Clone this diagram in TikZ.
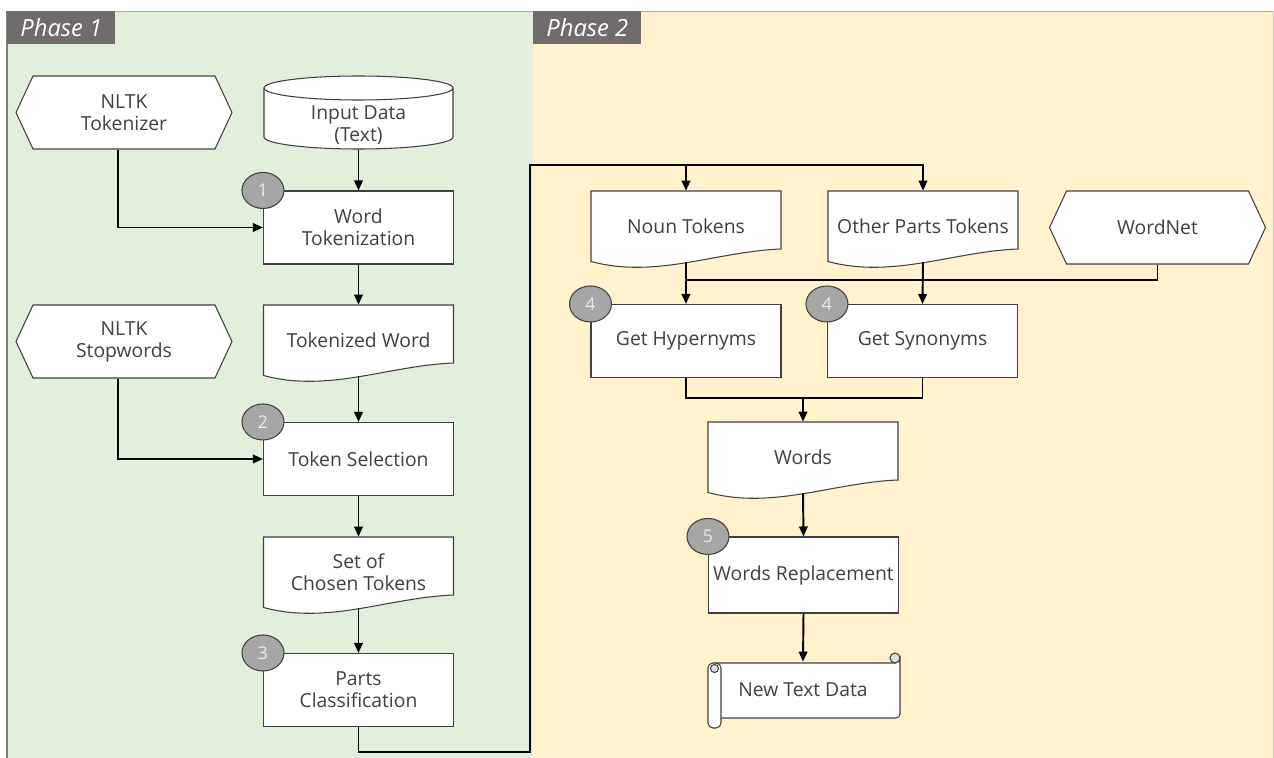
\documentclass[tikz,border=0pt]{standalone}
\usepackage{fontspec}
\setmainfont{Open Sans}
\usetikzlibrary{arrows.meta, shapes.geometric, shapes.symbols}

\definecolor{phasegreen}{RGB}{226,239,218}
\definecolor{phaseyellow}{RGB}{255,242,204}
\definecolor{tabgray}{RGB}{112,108,108}
\definecolor{badgegray}{RGB}{166,166,166}
\definecolor{boxgray}{RGB}{64,64,64}
\definecolor{txtgray}{RGB}{64,64,64}

% wavy-bottom document outline, centred at #1
\newcommand{\docshape}[1]{%
    \begin{scope}[shift={#1}]
        \draw[boxline] (-1.9,0.71) -- (1.9,0.71) -- (1.9,-0.45)
            .. controls (0.6,-0.5) and (-0.6,-1.05) .. (-1.9,-0.70) -- cycle;
    \end{scope}}

\begin{document}
\begin{tikzpicture}[
        > = {Triangle[length=2mm, width=1.7mm]},
        boxline/.style = {draw = boxgray, fill = white, line width = 0.6pt},
        boxtext/.style = {text = txtgray, align = center, inner sep = 1pt, font = \fontsize{11}{12.5}\selectfont},
        proc/.style = {boxline, boxtext, minimum width = 3.8cm, minimum height = 1.46cm},
        hexa/.style = {boxline, boxtext, signal, signal to = west and east, signal pointer angle = 130,
                       minimum width = 4.32cm, minimum height = 1.46cm},
        doctext/.style = {boxtext, minimum width = 3.8cm, minimum height = 1.42cm},
        badge/.style = {ellipse, draw = boxgray, fill = badgegray, text = white!92!black, line width = 0.6pt,
                        minimum width = 0.84cm, minimum height = 0.72cm, inner sep = 0pt,
                        font = \fontsize{10}{11}\selectfont},
        tab/.style = {fill = tabgray, text = white, minimum width = 2.16cm, minimum height = 0.66cm,
                      inner sep = 0pt, font = \fontsize{13.5}{15}\selectfont\itshape},
        flow/.style = {->, line width = 1.1pt},
        link/.style = {line width = 1.1pt}
    ]
        \useasboundingbox (0, 0) rectangle (25.48, -15.16);

        % Panels
        \fill [phasegreen] (0.14, -0.22) rectangle (10.66, -15.16);
        \fill [phaseyellow] (10.66, -0.22) rectangle (25.46, -15.16);
        \draw [gray!70] (0.14, -0.22) -- (25.46, -0.22);
        \draw [gray, line width = 1pt] (0.14, -0.22) -- (0.14, -15.16);
        \draw [gray!40] (25.46, -0.22) -- (25.46, -15.16);
        \node [tab, anchor = north west] (ph1) at (0.14, -0.22) {Phase 1};
        \node [tab, anchor = north west] (ph2) at (10.66, -0.22) {Phase 2};

        % Shapes
        \draw [boxline] (5.28, -1.76) -- (5.28, -2.74) arc (180:360:1.89 and 0.24)
            -- (9.06, -1.76) arc (0:180:1.89 and 0.24) -- cycle;
        \draw [boxline, fill = none] (5.28, -1.76) arc (180:360:1.89 and 0.24);
        \docshape{(7.17, -6.81)}
        \docshape{(7.17, -11.45)}
        \docshape{(13.72, -4.53)}
        \docshape{(18.46, -4.53)}
        \docshape{(16.06, -9.15)}
        % scroll
        \draw [boxline] (14.3, -13.26) -- (17.9, -13.26) arc (270:360:0.1)
            -- (18.0, -14.28) arc (0:-90:0.08) -- (14.3, -14.36) -- cycle;
        \draw [boxline, fill = gray!25] (17.9, -13.16) circle (0.1);
        \draw [boxline, rounded corners = 0.1cm] (14.16, -13.26) rectangle (14.42, -14.56);
        \draw [boxline, fill = gray!25] (14.29, -13.37) circle (0.08);

        % Nodes
        \node [hexa] (tok) at (2.48, -2.25) {NLTK\\Tokenizer};
        \node [boxtext, minimum width = 3.78cm, minimum height = 0.96cm] (inp) at (7.17, -2.51) {Input Data\\(Text)};
        \node [proc] (wt) at (7.17, -4.55) {Word\\Tokenization};
        \node [doctext] (tw) at (7.17, -6.81) {Tokenized Word};
        \node [hexa] (sw) at (2.48, -6.83) {NLTK\\Stopwords};
        \node [proc] (ts) at (7.17, -9.18) {Token Selection};
        \node [doctext] (sct) at (7.17, -11.45) {Set of\\Chosen Tokens};
        \node [proc] (pc) at (7.17, -13.8) {Parts\\Classification};

        \node [doctext] (nt) at (13.72, -4.53) {Noun Tokens};
        \node [doctext] (op) at (18.46, -4.53) {Other Parts Tokens};
        \node [hexa] (wn) at (23.15, -4.55) {WordNet};
        \node [proc] (gh) at (13.72, -6.82) {Get Hypernyms};
        \node [proc] (gs) at (18.45, -6.82) {Get Synonyms};
        \node [doctext] (wd) at (16.06, -9.15) {Words};
        \node [proc, minimum height = 1.52cm] (wr) at (16.07, -11.5) {Words Replacement};
        \node [boxtext, minimum width = 3.6cm, minimum height = 1.12cm] (ntd) at (16.06, -13.8) {New Text Data};

        % Step badges
        \node [badge] (b1) at (wt.north west) {1};
        \node [badge] (b2) at (ts.north west) {2};
        \node [badge] (b3) at (pc.north west) {3};
        \node [badge] (b4a) at (gh.north west) {4};
        \node [badge] (b4b) at (gs.north west) {4};
        \node [badge] (b5) at (wr.north west) {5};

        % Bends
        \coordinate (low) at (10.6, -15.04);
        \coordinate (high) at (10.6, -3.3);
        \coordinate (wnjoin) at (13.72, -5.6);
        \coordinate (merge) at (16.06, -7.96);

        % Edges Direction
        \draw [flow] (inp.south) -- (wt.north);
        \draw [flow] ([xshift = -0.12cm]tok.south) |- (wt.west);
        \draw [flow] (wt.south) -- (tw.north);
        \draw [flow] (tw.south) -- (ts.north);
        \draw [flow] ([xshift = -0.12cm]sw.south) |- (ts.west);
        \draw [flow] (ts.south) -- (sct.north);
        \draw [flow] (sct.south) -- (pc.north);
        \draw [flow] (pc.south) |- (low) -- (high) -| (op.north);
        \draw [flow] (high -| nt.north) -- (nt.north);
        \draw [link] (wn.south) |- (wnjoin);
        \draw [flow] (nt.south) -- (gh.north);
        \draw [flow] (op.south) -- (gs.north);
        \draw [link] (gh.south) |- (merge) -| (gs.south);
        \draw [flow] (merge) -- (wd.north);
        \draw [flow] (wd.south) -- (wr.north);
        \draw [flow] (wr.south) -- (ntd.north);

    \end{tikzpicture}
\end{document}
